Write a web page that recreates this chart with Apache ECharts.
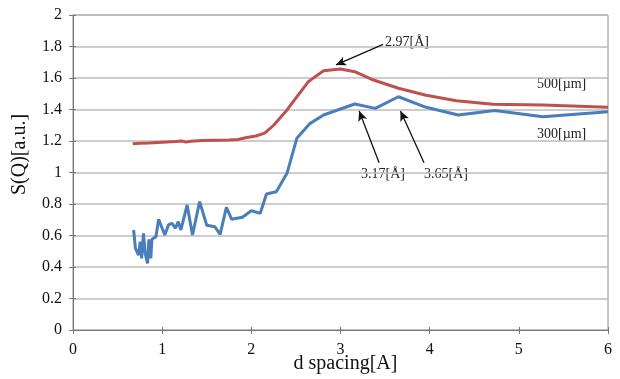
<!DOCTYPE html>
<html><head><meta charset="utf-8">
<script src="https://cdn.jsdelivr.net/npm/echarts@6/dist/echarts.min.js"></script>
<style>html,body{margin:0;padding:0;background:#fff}#c{width:620px;height:379px}</style>
</head><body><div id="c"></div>
<script>
const xTicks = [0,1,2,3,4,5,6];
const yTicks = [0,0.2,0.4,0.6,0.8,1,1.2,1.4,1.6,1.8,2];
const dRed = [0.67,0.75,0.85,0.95,1.05,1.15,1.22,1.27,1.32,1.45,1.6,1.75,1.85,1.95,2.05,2.15,2.25,2.40,2.51,2.64,2.81,3.0,3.16,3.37,3.65,3.96,4.30,4.71,5.27,6.0];
const sRed = [1.182,1.185,1.187,1.19,1.193,1.197,1.20,1.193,1.198,1.203,1.205,1.207,1.21,1.222,1.232,1.25,1.30,1.397,1.48,1.577,1.646,1.657,1.64,1.587,1.535,1.49,1.456,1.433,1.429,1.414];
const dBlue = [0.68,0.70,0.716,0.735,0.754,0.77,0.79,0.81,0.836,0.851,0.873,0.885,0.93,0.96,1.0,1.03,1.07,1.11,1.15,1.18,1.21,1.28,1.34,1.42,1.50,1.59,1.65,1.72,1.78,1.90,2.0,2.10,2.17,2.28,2.40,2.51,2.66,2.81,3.0,3.16,3.39,3.65,3.96,4.32,4.73,5.27,6.0];
const sBlue = [0.635,0.518,0.529,0.476,0.561,0.455,0.614,0.487,0.423,0.576,0.455,0.576,0.592,0.703,0.646,0.603,0.667,0.677,0.646,0.688,0.635,0.794,0.603,0.815,0.665,0.656,0.607,0.779,0.703,0.716,0.757,0.741,0.863,0.878,0.995,1.217,1.312,1.365,1.403,1.435,1.407,1.481,1.414,1.365,1.393,1.354,1.386];
const arrows = [
  {from:[3.478,1.814], to:[2.949,1.683]},
  {from:[3.433,1.062], to:[3.209,1.390]},
  {from:[3.937,1.062], to:[3.673,1.390]}
];
const serif = '"Liberation Serif","Times New Roman",serif';
const chart = echarts.init(document.getElementById('c'));
const tickStyle = {color:'#777'};
chart.setOption({
  animation:false,
  grid:{left:73,right:12,top:15,bottom:49,containLabel:false,outerBoundsMode:'none',show:true,borderColor:'#8c8c8c',borderWidth:1},
  xAxis:[{type:'value',min:0,max:6,interval:1,
    name:'d spacing[A]',nameLocation:'middle',nameGap:24,nameMoveOverlap:false,
    nameTextStyle:{fontFamily:serif,fontSize:20,color:'#111',padding:[0,0,0,10]},
    axisLine:{lineStyle:{color:'#777'}},axisTick:{show:true,length:4,lineStyle:tickStyle},
    axisLabel:{fontFamily:serif,fontSize:16,color:'#111',margin:12},
    splitLine:{show:false}},
    {type:'value',min:0,max:6,interval:1,position:'bottom',
    axisLine:{show:false},axisTick:{show:true,inside:true,length:3,lineStyle:tickStyle},
    axisLabel:{show:false},splitLine:{show:false}}],
  yAxis:[{type:'value',min:0,max:2,interval:0.2,
    name:'S(Q)[a.u.]',nameLocation:'middle',nameGap:43,nameMoveOverlap:false,
    nameTextStyle:{fontFamily:serif,fontSize:20,color:'#111',padding:[0,0,0,36]},
    axisLine:{show:true,lineStyle:{color:'#777'}},axisTick:{show:true,length:4,lineStyle:tickStyle},
    axisLabel:{fontFamily:serif,fontSize:16,color:'#111',margin:11},
    splitLine:{show:true,lineStyle:{color:'#bdbdbd',width:1.5}}},
    {type:'value',min:0,max:2,interval:0.2,position:'left',
    axisLine:{show:false},axisTick:{show:true,inside:true,length:3,lineStyle:tickStyle},
    axisLabel:{show:false},splitLine:{show:false}}],
  series:[
    {type:'line',name:'500[µm]',data:dRed.map((d,i)=>[d,sRed[i]]),showSymbol:false,
      lineStyle:{color:'#C0504D',width:3},itemStyle:{color:'#C0504D'},
      markLine:{silent:true,symbol:['none','arrow'],symbolSize:[7,10],label:{show:false},
        lineStyle:{color:'#111',width:1.3,type:'solid'},
        data:arrows.map(a=>[{coord:a.from},{coord:a.to}])}},
    {type:'line',name:'300[µm]',data:dBlue.map((d,i)=>[d,sBlue[i]]),showSymbol:false,
      lineStyle:{color:'#4A7EBB',width:3},itemStyle:{color:'#4A7EBB'}}
  ],
  graphic:[
    {type:'text',left:385,top:35,style:{text:'2.97[Å]',font:'14px '+serif,fill:'#222'}},
    {type:'text',left:537,top:77,style:{text:'500[µm]',font:'14px '+serif,fill:'#222'}},
    {type:'text',left:537,top:127,style:{text:'300[µm]',font:'14px '+serif,fill:'#222'}},
    {type:'text',left:361,top:167,style:{text:'3.17[Å]',font:'14px '+serif,fill:'#222'}},
    {type:'text',left:424,top:167,style:{text:'3.65[Å]',font:'14px '+serif,fill:'#222'}}
  ]
});
</script></body></html>
